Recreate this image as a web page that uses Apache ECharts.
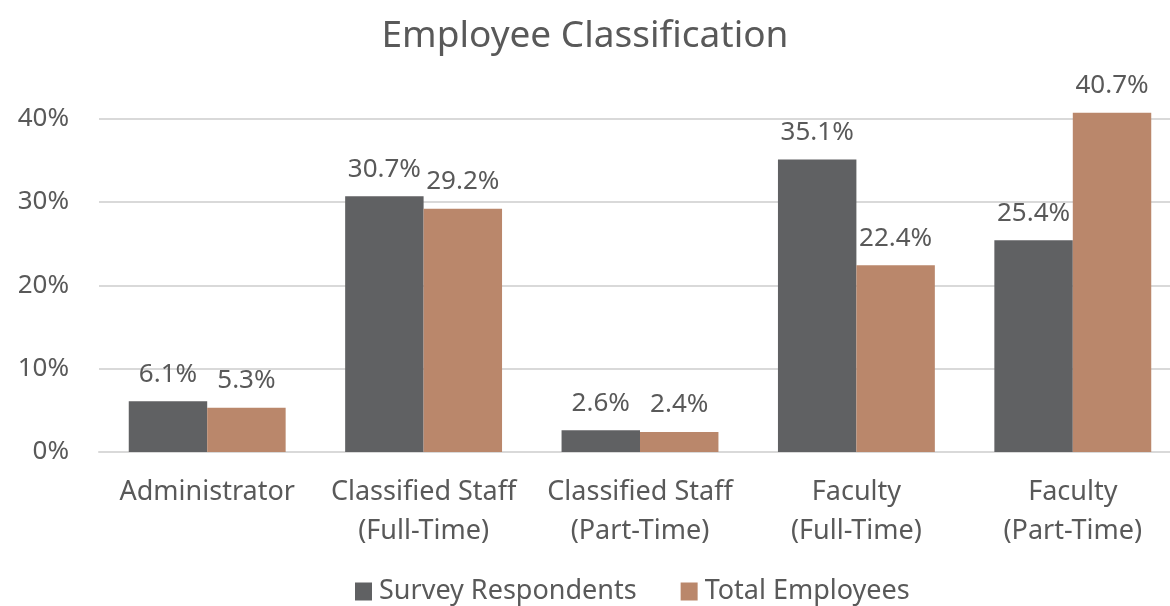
<!DOCTYPE html>
<html>
<head>
<meta charset="utf-8">
<script src="https://cdn.jsdelivr.net/npm/echarts@6/dist/echarts.min.js"></script>
<style>
  html, body { margin: 0; padding: 0; background: #fff; }
  #chart { width: 1170px; height: 606px; }
</style>
</head>
<body>
<div id="chart"></div>
<script>
const categories = [
  "Administrator",
  "Classified Staff\n(Full-Time)",
  "Classified Staff\n(Part-Time)",
  "Faculty\n(Full-Time)",
  "Faculty\n(Part-Time)"
];
const surveyRespondents = [6.1, 30.7, 2.6, 35.1, 25.4];
const totalEmployees = [5.3, 29.2, 2.4, 22.4, 40.7];
const seriesNames = ["Survey Respondents", "Total Employees"];

const textColor = "#595959";
const font = "Noto Sans";

const chart = echarts.init(document.getElementById("chart"));

const labelOpt = {
  show: true,
  position: "top",
  distance: 14,
  color: textColor,
  fontFamily: font,
  fontSize: 26,
  formatter: p => p.value.toFixed(1) + "%"
};

chart.setOption({
  animation: false,
  title: {
    text: "Employee Classification",
    left: "center",
    top: 13,
    textStyle: { color: textColor, fontFamily: font, fontSize: 37, fontWeight: "normal" }
  },
  legend: {
    bottom: -4,
    left: 350,
    itemWidth: 17,
    itemHeight: 18,
    itemGap: 44,
    icon: "rect",
    textStyle: { color: textColor, fontFamily: font, fontSize: 27, padding: [0, 0, 0, 2] },
    data: seriesNames
  },
  grid: {
    left: 99,
    width: 1082,
    top: 112,
    bottom: 154,
    outerBoundsMode: "none",
    containLabel: false
  },
  xAxis: {
    type: "category",
    data: categories,
    axisLine: { lineStyle: { color: "#d9d9d9", width: 2 } },
    axisTick: { show: false },
    axisLabel: {
      color: textColor,
      fontFamily: font,
      fontSize: 27,
      lineHeight: 39,
      margin: 21,
      interval: 0
    }
  },
  yAxis: {
    type: "value",
    min: 0,
    max: 40.8,
    interval: 10,
    axisLine: { show: false },
    axisTick: { show: false },
    splitLine: { show: true, showMaxLine: false, lineStyle: { color: "#d9d9d9", width: 2 } },
    axisLabel: {
      color: textColor,
      fontFamily: font,
      fontSize: 26,
      margin: 30,
      showMaxLabel: false,
      formatter: v => v + "%"
    }
  },
  series: [
    {
      name: seriesNames[0],
      type: "bar",
      data: surveyRespondents,
      barGap: "0%",
      barCategoryGap: "27.5%",
      itemStyle: { color: "#606163" },
      label: labelOpt
    },
    {
      name: seriesNames[1],
      type: "bar",
      data: totalEmployees,
      itemStyle: { color: "#ba876b" },
      label: labelOpt
    }
  ]
});
</script>
</body>
</html>
